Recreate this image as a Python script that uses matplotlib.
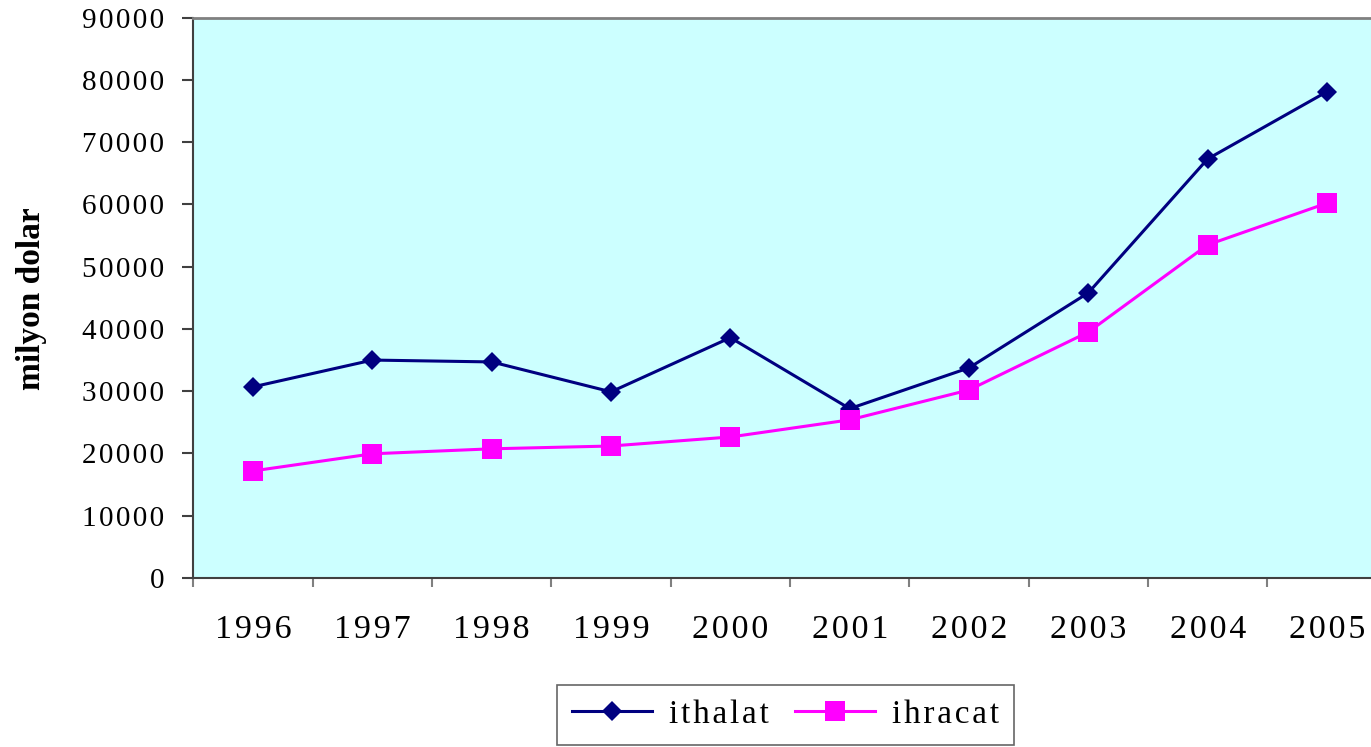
import matplotlib
matplotlib.use("Agg")
import matplotlib.pyplot as plt
import numpy as np

# Veriler (milyon dolar)
years = ["1996", "1997", "1998", "1999", "2000", "2001", "2002", "2003", "2004", "2005"]
ithalat = [30700, 35000, 34700, 29900, 38600, 27200, 33750, 45800, 67300, 78100]
ihracat = [17200, 19950, 20750, 21200, 22650, 25400, 30200, 39500, 53500, 60200]
yticks = list(range(0, 90001, 10000))

plt.rcParams["font.family"] = ["Liberation Serif", "DejaVu Serif"]


def spaced(s):
    # harfler arasi bosluk (Excel gorunumu)
    return "\u200a".join(s)


fig = plt.figure(figsize=(13.71, 7.47), dpi=100)
ax = fig.add_axes([0.1411, 0.2262, 0.8703, 0.7503])
ax.set_facecolor("#CCFFFF")

x = np.arange(len(years))
ax.plot(x, ithalat, color="#000080", lw=2.2, marker="D", ms=10.5,
        markeredgewidth=0, label=spaced("ithalat"))
ax.plot(x, ihracat, color="#FF00FF", lw=2.2, marker="s", ms=14.5,
        markeredgewidth=0, label=spaced("ihracat"))

ax.set_xlim(-0.5, len(years) - 0.5)
ax.set_ylim(0, 90000)
ax.set_yticks(yticks)
ax.set_yticklabels([spaced(str(v)) for v in yticks], fontsize=21)

ax.set_xticks(x)
ax.set_xticklabels([spaced(y) for y in years], fontsize=24.5)
ax.set_xticks(np.arange(-0.5, len(years), 1), minor=True)
ax.tick_params(axis="x", which="major", length=0, pad=26)
ax.tick_params(axis="x", which="minor", length=6.5, width=1.5, color="#808080")
ax.tick_params(axis="y", length=8, width=1.5, color="#404040", pad=13)

for s in ["left", "bottom"]:
    ax.spines[s].set_color("#404040")
    ax.spines[s].set_linewidth(1.5)
ax.spines["top"].set_color("#808080")
ax.spines["top"].set_linewidth(2)
ax.spines["right"].set_visible(False)

fig.text(0.023, 0.60, "milyon dolar", rotation=90, ha="center", va="center",
         fontsize=24, fontweight="bold")

leg = fig.legend(loc="center", bbox_to_anchor=(0.573, 0.043), ncol=2,
                 fontsize=24, frameon=True, fancybox=False, handlelength=2.4,
                 columnspacing=0.8, handletextpad=0.5, borderpad=0.45,
                 borderaxespad=0)
leg.get_frame().set_edgecolor("#404040")
leg.get_frame().set_linewidth(1.2)

fig.savefig("out.png", dpi=100)
